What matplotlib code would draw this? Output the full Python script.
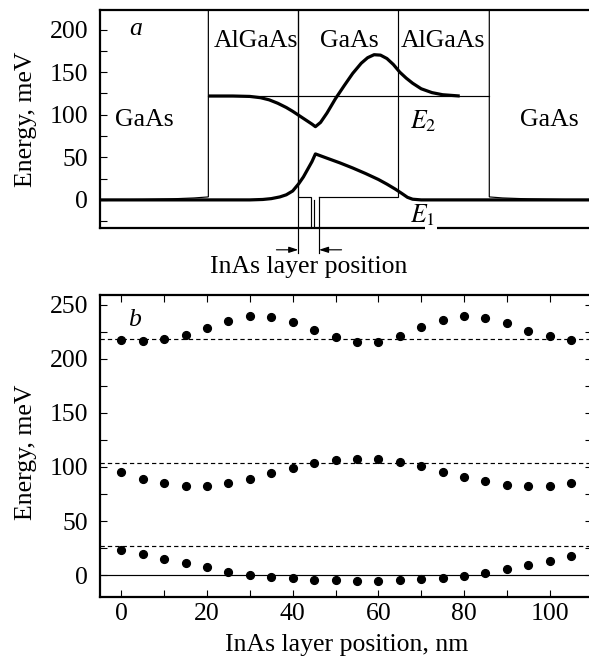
import matplotlib
matplotlib.use("Agg")
import matplotlib.pyplot as plt
from matplotlib.patches import Rectangle
from matplotlib.ticker import MultipleLocator

plt.rcParams['font.family'] = 'Liberation Serif'
plt.rcParams['mathtext.fontset'] = 'stix'
plt.rcParams['lines.scale_dashes'] = False

FS = 18.5

# ---------- panel a: structure, band edge and wavefunctions (nm, meV) ----------
layer_edges = [20.3, 41.3, 64.6, 85.9]
inas_left, inas_right = 44.36, 44.9
inas_marker = 46.14
e2_level = 122

band_left_x = [-5, 5, 12, 17, 20.3, 20.3]
band_left_y = [0, 0.5, 1.3, 2.3, 3.5, 260]
band_well_x = [41.3, 41.3, inas_left, inas_left, inas_right, inas_right]
band_well_y = [260, 3.5, 3.5, -40, -40, 0]
band_mid_x = [inas_marker, 64.6, 64.6]
band_mid_y = [3.5, 3.5, 260]
band_right_x = [85.9, 85.9, 89, 95, 103, 110]
band_right_y = [260, 3.5, 2.3, 1.2, 0.4, 0]

psi1_x = [-5, 30, 33, 35, 37, 38.5, 40, 41.4, 42.5, 43.5, 44.5, 45.3,
          48, 51, 54, 57, 60, 62, 64, 65.5, 66.8, 68, 70, 110]
psi1_y = [0, 0, 0.5, 1.5, 3.5, 6, 10.5, 19, 27, 36, 45, 54,
          49, 43.5, 37.5, 31, 24, 18.5, 12.5, 7.5, 3, 0.8, 0, 0]

psi2_x = [20.3, 26, 30, 32.5, 34.5, 36.5, 38.5, 40, 41.5, 43, 44.5, 45.3,
          46.5, 48, 50, 52, 54, 56, 57.5, 59, 60.5, 62, 63.5, 65, 66.5,
          68, 70, 72.5, 75, 79]
psi2_y = [122, 122, 121.5, 120, 117.5, 113.5, 108.5, 104, 99, 94, 89, 86,
          91, 102, 119, 134, 148.5, 160.5, 167, 170.5, 170, 166, 159, 150, 143,
          137, 130.5, 126, 123.5, 122]

# ---------- panel b: level energies vs InAs layer position ----------
position = [0, 5, 10, 15, 20, 25, 30, 35, 40, 45, 50, 55, 60, 65, 70, 75,
            80, 85, 90, 95, 100, 105]
level_3 = [217.6, 216.7, 218.3, 221.7, 228.2, 235.3, 239.3, 239.0, 234.3,
           226.9, 219.8, 215.2, 215.5, 220.7, 229.1, 235.9, 239.3, 237.7,
           232.8, 226.0, 221.1, 217.6]
level_2 = [94.9, 89.1, 84.8, 82.6, 82.6, 84.8, 88.8, 94.0, 98.6, 103.2, 106.3,
           107.6, 107.3, 104.8, 100.5, 95.6, 90.6, 86.6, 83.5, 82.0, 82.3, 85.4]
level_1 = [23.1, 19.1, 15.1, 11.1, 7.4, 2.4, 0.0, -1.9, -3.1, -4.3, -5.0, -5.6,
           -5.6, -5.0, -4.0, -2.8, -0.6, 1.8, 5.5, 9.2, 13.2, 17.2]
reference_levels = [218, 104, 27]

fig = plt.figure(figsize=(5.89, 6.6), dpi=100)
W, H = 589.0, 660.0
ax_a = fig.add_axes([100 / W, (H - 228) / H, 492.5 / W, 218 / H])
ax_b = fig.add_axes([100 / W, (H - 596.7) / H, 492.5 / W, 301.7 / H])

thin = 0.85
thick = 2.3

# ==========================
# Panel a
# ==========================
for xs, ys in [(band_left_x, band_left_y), (band_well_x, band_well_y),
               (band_mid_x, band_mid_y), (band_right_x, band_right_y)]:
    ax_a.plot(xs, ys, color="black", lw=thin, solid_joinstyle="miter")

ax_a.plot([layer_edges[0], layer_edges[3]], [e2_level, e2_level], color="black", lw=thin)

ax_a.plot(psi1_x, psi1_y, color="black", lw=thick, solid_capstyle="butt")
ax_a.plot(psi2_x, psi2_y, color="black", lw=thick, solid_capstyle="butt")

# guide lines marking the InAs layer position, running below the frame
ax_a.plot([layer_edges[1], layer_edges[1]], [223, -62], color="black", lw=thin, clip_on=False)
ax_a.plot([inas_marker, inas_marker], [3.5, -62], color="black", lw=thin, clip_on=False)
arrow_kw = dict(arrowstyle="-|>,head_length=0.55,head_width=0.18", lw=thin,
                color="black", mutation_scale=10, shrinkA=0, shrinkB=0)
ax_a.annotate("", xy=(layer_edges[1], -58.6), xytext=(36.2, -58.6),
              arrowprops=arrow_kw, annotation_clip=False)
ax_a.annotate("", xy=(inas_marker, -58.6), xytext=(51.4, -58.6),
              arrowprops=arrow_kw, annotation_clip=False)
ax_a.text(43.7, -85.9, "InAs layer position", fontsize=FS, ha="center", va="baseline")

ax_a.text(3.3, 193.4, "a", fontsize=FS, style="italic", ha="center", va="baseline")
ax_a.text(31.4, 179.7, "AlGaAs", fontsize=FS, ha="center", va="baseline")
ax_a.text(53.1, 179.7, "GaAs", fontsize=FS, ha="center", va="baseline")
ax_a.text(75.0, 179.7, "AlGaAs", fontsize=FS, ha="center", va="baseline")
ax_a.text(5.25, 86.7, "GaAs", fontsize=FS, ha="center", va="baseline")
ax_a.text(99.8, 86.7, "GaAs", fontsize=FS, ha="center", va="baseline")
ax_a.text(67.3, 84, r"$E_2$", fontsize=FS, ha="left", va="baseline")

# E1 sits on the bottom frame line; blank the frame under its subscript
ax_a.add_patch(Rectangle((71.0, -36), 2.7, 6, facecolor="white", edgecolor="none",
                         zorder=3, clip_on=False))
ax_a.text(67.3, -27, r"$E_1$", fontsize=FS, ha="left", va="baseline", zorder=4)

ax_a.set_xlim(-5, 110)
ax_a.set_ylim(-33, 223)
ax_a.yaxis.set_major_locator(MultipleLocator(50))
ax_a.yaxis.set_minor_locator(MultipleLocator(25))
ax_a.set_yticks([0, 50, 100, 150, 200])
ax_a.tick_params(axis="y", which="both", direction="in", length=5, width=0.8,
                 left=True, right=False, labelsize=FS, pad=8.5)
ax_a.tick_params(axis="x", which="both", bottom=False, top=False, labelbottom=False)
ax_a.set_ylabel("Energy, meV", fontsize=FS)
ax_a.yaxis.set_label_coords(-0.128, 0.5)

# ==========================
# Panel b
# ==========================
ax_b.axhline(0, color="black", lw=thin)
for lvl in reference_levels:
    ax_b.axhline(lvl, color="black", lw=thin, dashes=(3.1, 2.2))

for series in (level_1, level_2, level_3):
    ax_b.plot(position, series, "o", color="black", markersize=5.6, zorder=3)

ax_b.text(3.1, 230, "b", fontsize=FS, style="italic", ha="center", va="baseline")

ax_b.set_xlim(-5, 110)
ax_b.set_ylim(-20, 259)
ax_b.xaxis.set_major_locator(MultipleLocator(20))
ax_b.xaxis.set_minor_locator(MultipleLocator(10))
ax_b.yaxis.set_major_locator(MultipleLocator(50))
ax_b.yaxis.set_minor_locator(MultipleLocator(25))
ax_b.tick_params(which="both", direction="in", length=5, width=0.8,
                 top=True, right=True, labelsize=FS)
ax_b.tick_params(axis="y", pad=8.5)
ax_b.tick_params(axis="x", pad=4.5)
ax_b.set_xlabel("InAs layer position, nm", fontsize=FS)
ax_b.xaxis.set_label_coords(0.5, -0.124)
ax_b.set_ylabel("Energy, meV", fontsize=FS)
ax_b.yaxis.set_label_coords(-0.128, 0.478)

for ax in (ax_a, ax_b):
    for sp in ax.spines.values():
        sp.set_linewidth(1.6)

fig.savefig("out.png", dpi=100)
